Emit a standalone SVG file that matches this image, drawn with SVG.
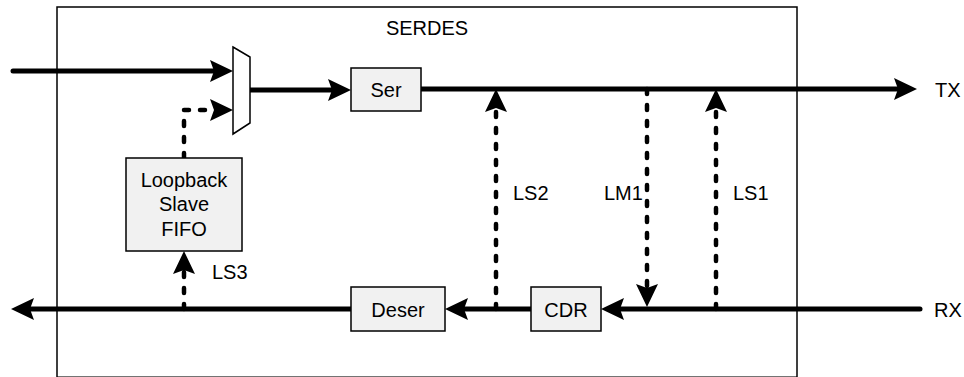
<svg xmlns="http://www.w3.org/2000/svg" width="964" height="377" viewBox="0 0 964 377">
  <style>
    .box { fill: #f1f1f1; stroke: #000; stroke-width: 1.5; }
    .frame { fill: #fff; stroke: #000; stroke-width: 1.5; }
    .txt { font-family: "Liberation Sans", Arial, sans-serif; font-size: 20px; fill: #000; }
    .c { text-anchor: middle; }
    .solid { fill: none; stroke: #000; stroke-width: 5; stroke-linecap: round; stroke-linejoin: round; marker-end: url(#ah); }
    .dash { fill: none; stroke: #000; stroke-width: 4.5; stroke-linecap: round; stroke-linejoin: round; stroke-dasharray: 5 11; marker-end: url(#ah); }
  </style>
  <defs>
    <marker id="ah" markerUnits="userSpaceOnUse" markerWidth="23" markerHeight="22" viewBox="0 0 23 22" refX="4" refY="11" orient="auto">
      <path d="M0,0 L23,11 L0,22 L4,11 Z" fill="#000"/>
    </marker>
  </defs>

  <g id="serdes">
    <rect class="frame" x="57" y="7" width="740" height="370.2"/>
    <text class="txt c" x="427" y="35">SERDES</text>
  </g>

  <g id="connectors">
    <path class="solid" d="M13,71 L214,71"/>
    <path class="dash" d="M184,158 L184,110 L214,110"/>
    <path class="solid" d="M250,90 L332,90"/>
    <path class="solid" d="M421,89 L898,89"/>
    <path class="dash" d="M496,309 L496,108"/>
    <path class="dash" d="M716,309 L716,108"/>
    <path class="dash" d="M647,89 L647,288"/>
    <path class="solid" d="M920,309 L620,309"/>
    <path class="solid" d="M531,309 L464,309"/>
    <path class="solid" d="M351,309 L30,309"/>
    <path class="dash" d="M184,309 L184,270"/>
  </g>

  <g id="mux">
    <polygon points="233,47 250,57 250,123 233,134" fill="#fff" stroke="#000" stroke-width="1.5"/>
  </g>

  <g id="ser">
    <rect class="box" x="351" y="68" width="70" height="43"/>
    <text class="txt c" x="386" y="97">Ser</text>
  </g>

  <g id="fifo">
    <rect class="box" x="126" y="158" width="116" height="93"/>
    <text class="txt c" x="184" y="187">Loopback</text>
    <text class="txt c" x="184" y="211">Slave</text>
    <text class="txt c" x="184" y="235.5">FIFO</text>
  </g>

  <g id="deser">
    <rect class="box" x="351" y="287" width="94" height="44"/>
    <text class="txt c" x="398" y="316.5">Deser</text>
  </g>

  <g id="cdr">
    <rect class="box" x="531" y="287" width="70" height="44"/>
    <text class="txt c" x="566" y="316.5">CDR</text>
  </g>

  <g id="labels">
    <text class="txt" x="935" y="97">TX</text>
    <text class="txt" x="934" y="316.5">RX</text>
    <text class="txt" x="513" y="200">LS2</text>
    <text class="txt" x="604" y="200">LM1</text>
    <text class="txt" x="733" y="200">LS1</text>
    <text class="txt" x="212" y="279">LS3</text>
  </g>
</svg>
